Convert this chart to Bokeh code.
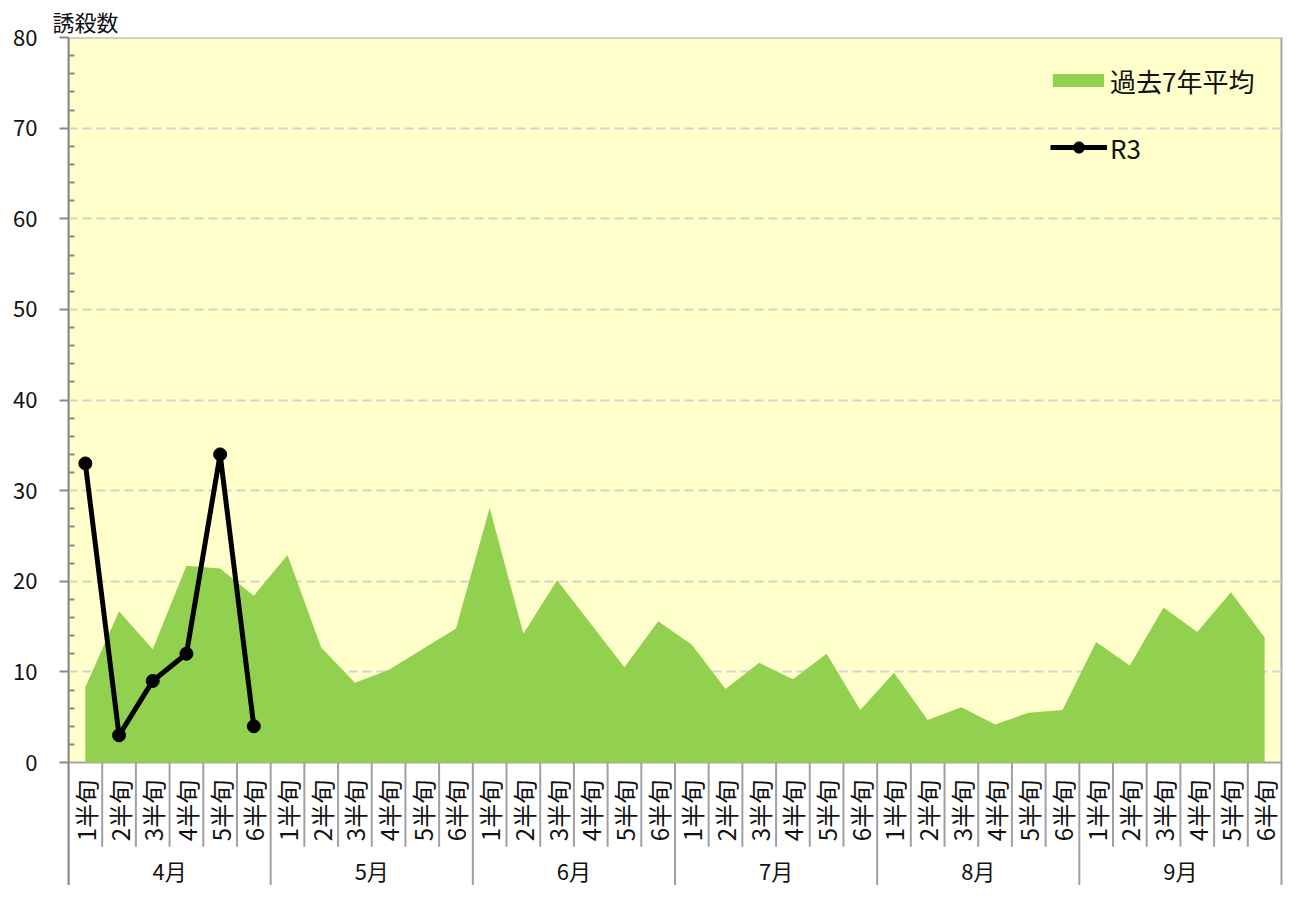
import math
from bokeh.plotting import figure
from bokeh.models import Range1d, FixedTicker, ColumnDataSource, Legend, LegendItem
from bokeh.core.properties import value
from bokeh.embed import file_html
from bokeh.resources import INLINE

# ---- data ----
months = ["4月", "5月", "6月", "7月", "8月", "9月"]
halves = ["1半旬", "2半旬", "3半旬", "4半旬", "5半旬", "6半旬"]
avg7 = [8.3, 16.7, 12.5, 21.7, 21.4, 18.4,
        22.9, 12.7, 8.8, 10.2, 12.5, 14.8,
        28.1, 14.2, 20.1, 15.3, 10.5, 15.6,
        13.0, 8.1, 11.0, 9.2, 12.0, 5.8,
        9.9, 4.7, 6.1, 4.2, 5.5, 5.8,
        13.3, 10.7, 17.1, 14.4, 18.8, 13.8]
r3 = [33, 3, 9, 12, 34, 4]
y_ticks = [0, 10, 20, 30, 40, 50, 60, 70, 80]
y_minor = [v for v in range(2, 80, 2) if v % 10 != 0]
y_name = "誘殺数"

JP = "Noto Sans CJK JP"
n = len(avg7)
xs = [i + 0.5 for i in range(n)]

W, H = 1285, 885
TOP = 37
PX = 725 / 80.0
FRAME_H = H - TOP
Y_TOP = 80.0
Y_BOT = Y_TOP - FRAME_H / PX

p = figure(width=W, height=H, output_backend="svg", toolbar_location=None,
           x_range=Range1d(0, 36.06), y_range=Range1d(Y_BOT, Y_TOP),
           min_border_left=68, min_border_right=2, min_border_top=TOP, min_border_bottom=0,
           x_axis_location=None, outline_line_color=None,
           background_fill_color="white", border_fill_color="white")

# plot area background
p.quad(left=[0], right=[n], bottom=[0], top=[y_ticks[-1]], fill_color="#FFFFCC",
       line_color="#a6a6a6", line_width=2, level="image")

# grid
p.xgrid.visible = False
p.ygrid.ticker = FixedTicker(ticks=y_ticks[1:-1])
p.ygrid.grid_line_color = "#d4d4d4"
p.ygrid.grid_line_dash = "9 5"
p.ygrid.grid_line_width = 2

# y axis
ya = p.yaxis[0]
ya.ticker = FixedTicker(ticks=y_ticks, minor_ticks=y_minor)
ya.axis_line_color = "#8a8a8a"
ya.axis_line_width = 2
ya.major_tick_line_color = "#8a8a8a"
ya.major_tick_line_width = 2
ya.major_tick_out = 9
ya.major_tick_in = 0
ya.minor_tick_line_color = "#8a8a8a"
ya.minor_tick_line_width = 2
ya.minor_tick_out = 0
ya.minor_tick_in = 6
ya.major_label_text_font = JP
ya.major_label_text_font_size = "22px"
ya.major_label_text_color = "#111111"
ya.major_label_standoff = 22

# area + line
r_area = p.varea(x=xs, y1=[0] * n, y2=avg7, fill_color="#92D050")
xr = xs[:len(r3)]
r_line = p.line(x=xr, y=r3, line_color="black", line_width=5)
r_pts = p.scatter(x=xr, y=r3, size=13, fill_color="black", line_color="black")

# x category dividers and labels
bounds = list(range(0, n + 1))
cat_b = [b for b in bounds if b % 6 != 0]
mon_b = [b for b in bounds if b % 6 == 0]
p.segment(x0=cat_b, y0=[0] * len(cat_b), x1=cat_b, y1=[-9.3] * len(cat_b),
          line_color="#a0a0a0", line_width=2)
p.segment(x0=mon_b, y0=[0] * len(mon_b), x1=mon_b, y1=[Y_BOT] * len(mon_b),
          line_color="#a0a0a0", line_width=2)

lab_src = ColumnDataSource(dict(x=xs, y=[-5.3] * n, t=[halves[i % 6] for i in range(n)]))
p.text(x="x", y="y", text="t", source=lab_src, angle=math.pi / 2,
       text_align="center", text_baseline="middle", text_font=value(JP),
       text_font_size="24px", text_color="#111111")

mon_src = ColumnDataSource(dict(x=[6 * k + 3 for k in range(len(months))],
                                y=[-11.9] * len(months), t=months))
p.text(x="x", y="y", text="t", source=mon_src, text_align="center",
       text_baseline="middle", text_font=value(JP), text_font_size="22px",
       text_color="#111111")

# y axis name above the axis (as the figure title)
p.title.text = y_name
p.title.align = "left"
p.title.vertical_align = "top"
p.title.offset = -16
p.title.text_font = "DejaVu Sans, Noto Sans CJK JP"
p.title.text_font_size = "22px"
p.title.text_font_style = "normal"
p.title.text_color = "#111111"
p.title.standoff = 0


def style_legend(lg):
    lg.background_fill_alpha = 0
    lg.border_line_color = None
    lg.padding = 0
    lg.margin = 0
    lg.label_height = 38
    lg.label_text_font = JP
    lg.label_text_font_size = "26px"
    lg.label_text_color = "#111111"


lg1 = Legend(items=[LegendItem(label="過去7年平均", renderers=[r_area])], location=(978, 786))
style_legend(lg1)
lg1.glyph_width = 64
lg1.glyph_height = 16
lg1.label_standoff = 0

lg2 = Legend(items=[LegendItem(label="R3", renderers=[r_line, r_pts])], location=(982, 719))
style_legend(lg2)
lg2.glyph_width = 57
lg2.glyph_height = 28
lg2.label_standoff = 3

p.add_layout(lg1)
p.add_layout(lg2)

open("out.html", "w").write(file_html(p, INLINE))
